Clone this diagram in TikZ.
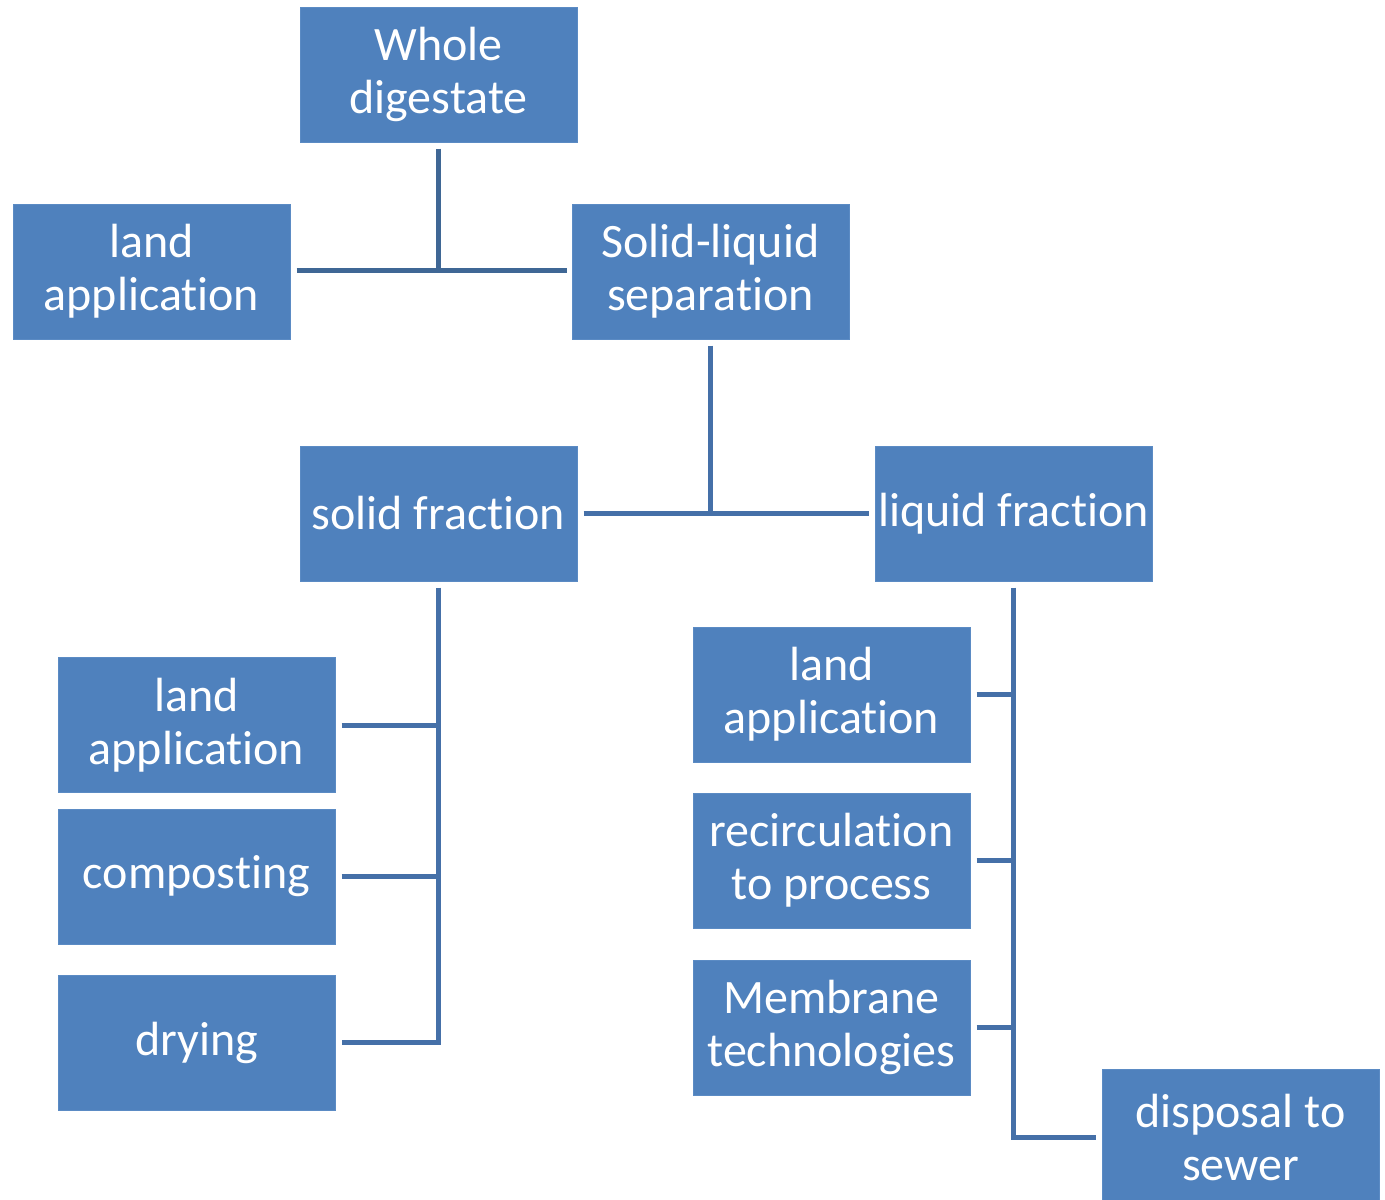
\documentclass[tikz,border=0pt]{standalone}
\usepackage{fontspec}
\setmainfont{Carlito}[Ligatures={NoCommon,NoRequired,NoContextual,NoRare}]
\definecolor{boxfill}{HTML}{4F81BD}
\definecolor{boxedge}{HTML}{5B8BC4}
\definecolor{conndark}{HTML}{3F6795}
\definecolor{connmid}{HTML}{4570A8}
\begin{document}
\begin{tikzpicture}[x=1pt,y=-1pt,
  box/.style={rectangle, fill=boxfill, draw=boxedge, line width=1pt,
    minimum width=277pt, minimum height=135pt, inner sep=0pt,
    text=white, align=center,
    font=\fontsize{48}{53}\selectfont},
  conn/.style={draw=connmid, line width=5pt},
  conntop/.style={draw=conndark, line width=5pt}]
\useasboundingbox (0,0) rectangle (1385,1200);
\node[box] (whole) at (438.5,74.5) {Whole\\digestate};
\node[box] (landtop) at (151.5,271.5) {land\\application};
\node[box] (sep) at (710.5,271.5) {Solid-liquid\\separation};
\node[box] (solid) at (438.5,513.5) {solid fraction};
\node[box] (liquid) at (1013.5,513.5) {liquid fraction};
\node[box] (landl) at (196.5,725) {land\\application};
\node[box] (comp) at (196.5,876.5) {composting};
\node[box] (dry) at (196.5,1042.5) {drying};
\node[box] (landr) at (831.5,694.5) {land\\application};
\node[box] (recirc) at (831.5,860.5) {recirculation\\to process};
\node[box] (memb) at (831.5,1027.5) {Membrane\\technologies};
\node[box] (sewer) at (1240.5,1137) {disposal to\\sewer};
% top connector
\draw[conntop] ([yshift=-6pt]whole.south) -- ([yshift=1.5pt]whole.south |- landtop.east);
\draw[conntop] ([xshift=6pt,yshift=1.5pt]landtop.east) -- ([xshift=-5pt,yshift=1.5pt]sep.west);
% separation connector
\draw[conn] ([yshift=-6pt]sep.south) -- (sep.south |- solid.east);
\draw[conn] ([xshift=6pt]solid.east) -- ([xshift=-6pt]liquid.west);
% solid fraction
\draw[conn] ([yshift=-6pt]solid.south) |- ([xshift=6pt]dry.east);
\draw[conn] ([xshift=6pt]landl.east) -- (landl.east -| solid.south);
\draw[conn] ([xshift=6pt]comp.east) -- (comp.east -| solid.south);
% liquid fraction
\draw[conn] ([yshift=-6pt]liquid.south) |- ([xshift=-6pt]sewer.west);
\draw[conn] ([xshift=6pt]landr.east) -- (landr.east -| liquid.south);
\draw[conn] ([xshift=6pt]recirc.east) -- (recirc.east -| liquid.south);
\draw[conn] ([xshift=6pt]memb.east) -- (memb.east -| liquid.south);
\end{tikzpicture}
\end{document}
